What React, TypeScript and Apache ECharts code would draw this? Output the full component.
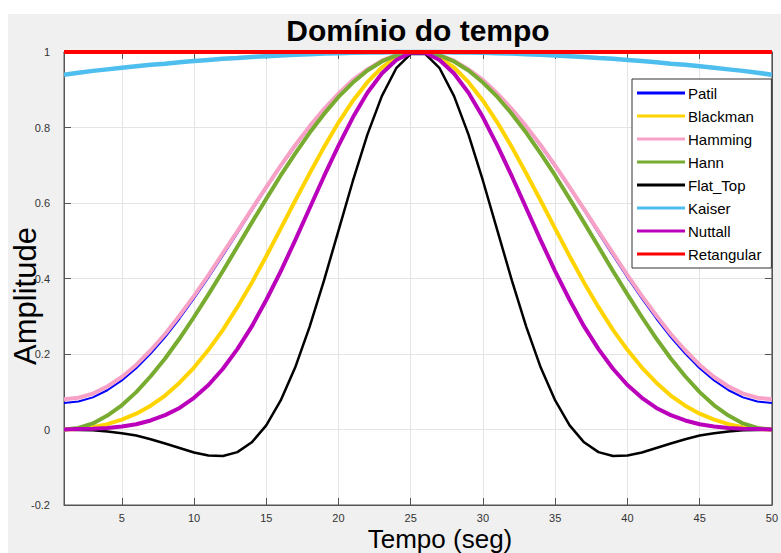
import React, { useEffect, useRef } from "react";
import * as echarts from "echarts";

const tempo = [1, 2, 3, 4, 5, 6, 7, 8, 9, 10, 11, 12, 13, 14, 15, 16, 17, 18, 19, 20, 21, 22, 23, 24, 25, 26, 27, 28, 29, 30, 31, 32, 33, 34, 35, 36, 37, 38, 39, 40, 41, 42, 43, 44, 45, 46, 47, 48, 49, 50];
const xTickLabels = [5, 10, 15, 20, 25, 30, 35, 40, 45, 50];

const patil = [0.070, 0.074, 0.085, 0.104, 0.130, 0.162, 0.201, 0.245, 0.294, 0.347, 0.403, 0.461, 0.520, 0.580, 0.639, 0.696, 0.750, 0.801, 0.848, 0.889, 0.925, 0.954, 0.976, 0.991, 0.999, 0.999, 0.991, 0.976, 0.954, 0.925, 0.889, 0.848, 0.801, 0.750, 0.696, 0.639, 0.580, 0.520, 0.461, 0.403, 0.347, 0.294, 0.245, 0.201, 0.162, 0.130, 0.104, 0.085, 0.074, 0.070];
const blackman = [0, 0.001, 0.006, 0.014, 0.026, 0.042, 0.063, 0.090, 0.124, 0.164, 0.211, 0.264, 0.324, 0.389, 0.459, 0.532, 0.606, 0.678, 0.748, 0.813, 0.871, 0.920, 0.959, 0.985, 0.998, 0.998, 0.985, 0.959, 0.920, 0.871, 0.813, 0.748, 0.678, 0.606, 0.532, 0.459, 0.389, 0.324, 0.264, 0.211, 0.164, 0.124, 0.090, 0.063, 0.042, 0.026, 0.014, 0.006, 0.001, 0];
const hamming = [0.080, 0.084, 0.095, 0.114, 0.139, 0.171, 0.210, 0.253, 0.302, 0.354, 0.409, 0.467, 0.525, 0.584, 0.642, 0.699, 0.753, 0.803, 0.849, 0.890, 0.926, 0.954, 0.977, 0.992, 0.999, 0.999, 0.992, 0.977, 0.954, 0.926, 0.890, 0.849, 0.803, 0.753, 0.699, 0.642, 0.584, 0.525, 0.467, 0.409, 0.354, 0.302, 0.253, 0.210, 0.171, 0.139, 0.114, 0.095, 0.084, 0.080];
const hann = [0, 0.004, 0.016, 0.037, 0.064, 0.099, 0.141, 0.188, 0.241, 0.298, 0.358, 0.420, 0.484, 0.548, 0.611, 0.673, 0.731, 0.786, 0.836, 0.881, 0.919, 0.951, 0.975, 0.991, 0.999, 0.999, 0.991, 0.975, 0.951, 0.919, 0.881, 0.836, 0.786, 0.731, 0.673, 0.611, 0.548, 0.484, 0.420, 0.358, 0.298, 0.241, 0.188, 0.141, 0.099, 0.064, 0.037, 0.016, 0.004, 0];
const flatTop = [0, -0.001, -0.002, -0.005, -0.010, -0.016, -0.026, -0.037, -0.049, -0.061, -0.069, -0.070, -0.060, -0.034, 0.011, 0.077, 0.164, 0.272, 0.395, 0.527, 0.659, 0.781, 0.883, 0.957, 0.995, 0.995, 0.957, 0.883, 0.781, 0.659, 0.527, 0.395, 0.272, 0.164, 0.077, 0.011, -0.034, -0.060, -0.070, -0.069, -0.061, -0.049, -0.037, -0.026, -0.016, -0.010, -0.005, -0.002, -0.001, 0];
const kaiser = [0.940, 0.945, 0.950, 0.954, 0.958, 0.962, 0.966, 0.969, 0.973, 0.976, 0.979, 0.982, 0.984, 0.987, 0.989, 0.991, 0.993, 0.994, 0.996, 0.997, 0.998, 0.999, 0.999, 1.000, 1.000, 1.000, 1.000, 0.999, 0.999, 0.998, 0.997, 0.996, 0.994, 0.993, 0.991, 0.989, 0.987, 0.984, 0.982, 0.979, 0.976, 0.973, 0.969, 0.966, 0.962, 0.958, 0.954, 0.950, 0.945, 0.940];
const nuttall = [0, 0.001, 0.002, 0.004, 0.008, 0.014, 0.024, 0.038, 0.057, 0.084, 0.118, 0.161, 0.213, 0.273, 0.343, 0.419, 0.501, 0.586, 0.671, 0.752, 0.827, 0.892, 0.943, 0.979, 0.998, 0.998, 0.979, 0.943, 0.892, 0.827, 0.752, 0.671, 0.586, 0.501, 0.419, 0.343, 0.273, 0.213, 0.161, 0.118, 0.084, 0.057, 0.038, 0.024, 0.014, 0.008, 0.004, 0.002, 0.001, 0];
const retangular = [1, 1, 1, 1, 1, 1, 1, 1, 1, 1, 1, 1, 1, 1, 1, 1, 1, 1, 1, 1, 1, 1, 1, 1, 1, 1, 1, 1, 1, 1, 1, 1, 1, 1, 1, 1, 1, 1, 1, 1, 1, 1, 1, 1, 1, 1, 1, 1, 1, 1];

const seriesNames = ["Patil", "Blackman", "Hamming", "Hann", "Flat_Top", "Kaiser", "Nuttall", "Retangular"];
const seriesValues = [patil, blackman, hamming, hann, flatTop, kaiser, nuttall, retangular];
const seriesColors = ["#0000ff", "#ffd400", "#f7a1c6", "#77ac30", "#000000", "#4dbeee", "#bb00bb", "#ff0000"];
const seriesWidths = [2, 4, 4, 4, 2.5, 4.5, 4, 4];

const FONT = "'Liberation Sans', Arial, sans-serif";

export default function App() {
  const ref = useRef<HTMLDivElement>(null);
  useEffect(() => {
    if (!ref.current) return;
    const chart = echarts.init(ref.current, null, { renderer: "svg" });
    const axisColor = "#555";
    const option: any = {
      animation: false,
      color: seriesColors,
      textStyle: { fontFamily: FONT },
      grid: {
        left: 64,
        right: 3,
        top: 52,
        bottom: 48,
        show: true,
        backgroundColor: "#fff",
        borderColor: axisColor,
        borderWidth: 1,
      },
      xAxis: [
        {
          type: "value",
          min: 1,
          max: 50,
          position: "bottom",
          axisLine: { show: true, onZero: false, lineStyle: { color: axisColor } },
          axisTick: { show: true, inside: true, length: 7, customValues: xTickLabels, lineStyle: { color: axisColor } },
          axisLabel: { customValues: xTickLabels, fontSize: 11, color: "#333", margin: 7, fontFamily: FONT },
          splitLine: { show: true, lineStyle: { color: "#e4e4e4", width: 1 } },
        },
        {
          type: "value",
          min: 1,
          max: 50,
          position: "top",
          axisLine: { show: true, onZero: false, lineStyle: { color: axisColor } },
          axisTick: { show: true, inside: true, length: 7, customValues: xTickLabels, lineStyle: { color: axisColor } },
          axisLabel: { show: false, customValues: xTickLabels },
          splitLine: { show: false },
        },
      ],
      yAxis: [
        {
          type: "value",
          min: -0.2,
          max: 1,
          interval: 0.2,
          position: "left",
          axisLine: { show: true, onZero: false, lineStyle: { color: axisColor } },
          axisTick: { show: true, inside: true, length: 7, lineStyle: { color: axisColor } },
          axisLabel: { fontSize: 11, color: "#333", margin: 14, fontFamily: FONT },
          splitLine: { show: true, lineStyle: { color: "#e4e4e4", width: 1 } },
        },
        {
          type: "value",
          min: -0.2,
          max: 1,
          interval: 0.2,
          position: "right",
          axisLine: { show: true, onZero: false, lineStyle: { color: axisColor } },
          axisTick: { show: true, inside: true, length: 7, lineStyle: { color: axisColor } },
          axisLabel: { show: false },
          splitLine: { show: false },
        },
      ],
      legend: {
        orient: "vertical",
        left: 632,
        top: 79,
        icon: "rect",
        itemWidth: 48,
        itemHeight: 3,
        itemGap: 7,
        padding: [6, 10, 6, 5],
        backgroundColor: "#fff",
        borderColor: "#333",
        borderWidth: 1,
        borderRadius: 0,
        selectedMode: false,
        textStyle: { fontSize: 15, color: "#000", lineHeight: 16, fontFamily: FONT, padding: [0, 0, 0, -2] },
        data: seriesNames,
      },
      graphic: [
        {
          type: "text",
          x: 418,
          y: 30,
          style: {
            text: "Domínio do tempo",
            font: `bold 30px ${FONT}`,
            fill: "#000",
            textAlign: "center",
            textVerticalAlign: "middle",
          },
        },
        {
          type: "text",
          x: 25,
          y: 296,
          rotation: Math.PI / 2,
          style: {
            text: "Amplitude",
            font: `31px ${FONT}`,
            fill: "#000",
            textAlign: "center",
            textVerticalAlign: "middle",
          },
        },
        {
          type: "text",
          x: 440,
          y: 539,
          style: {
            text: "Tempo (seg)",
            font: `26px ${FONT}`,
            fill: "#000",
            textAlign: "center",
            textVerticalAlign: "middle",
          },
        },
      ],
      series: seriesNames.map((name, i) => ({
        name,
        type: "line",
        xAxisIndex: 0,
        yAxisIndex: 0,
        showSymbol: false,
        symbol: "none",
        clip: false,
        smooth: false,
        itemStyle: { color: seriesColors[i] },
        lineStyle: { color: seriesColors[i], width: seriesWidths[i] },
        data: tempo.map((t, j) => [t, seriesValues[i][j]]),
      })),
    };
    chart.setOption(option);
    return () => chart.dispose();
  }, []);

  return (
    <div style={{ position: "fixed", left: 0, top: 0, width: 781, height: 553, background: "#fff" }}>
      <div style={{ position: "absolute", left: 8, top: 14, width: 773, height: 539, background: "#f0f0f0" }} />
      <div ref={ref} style={{ position: "absolute", left: 0, top: 0, width: 781, height: 553 }} />
    </div>
  );
}
